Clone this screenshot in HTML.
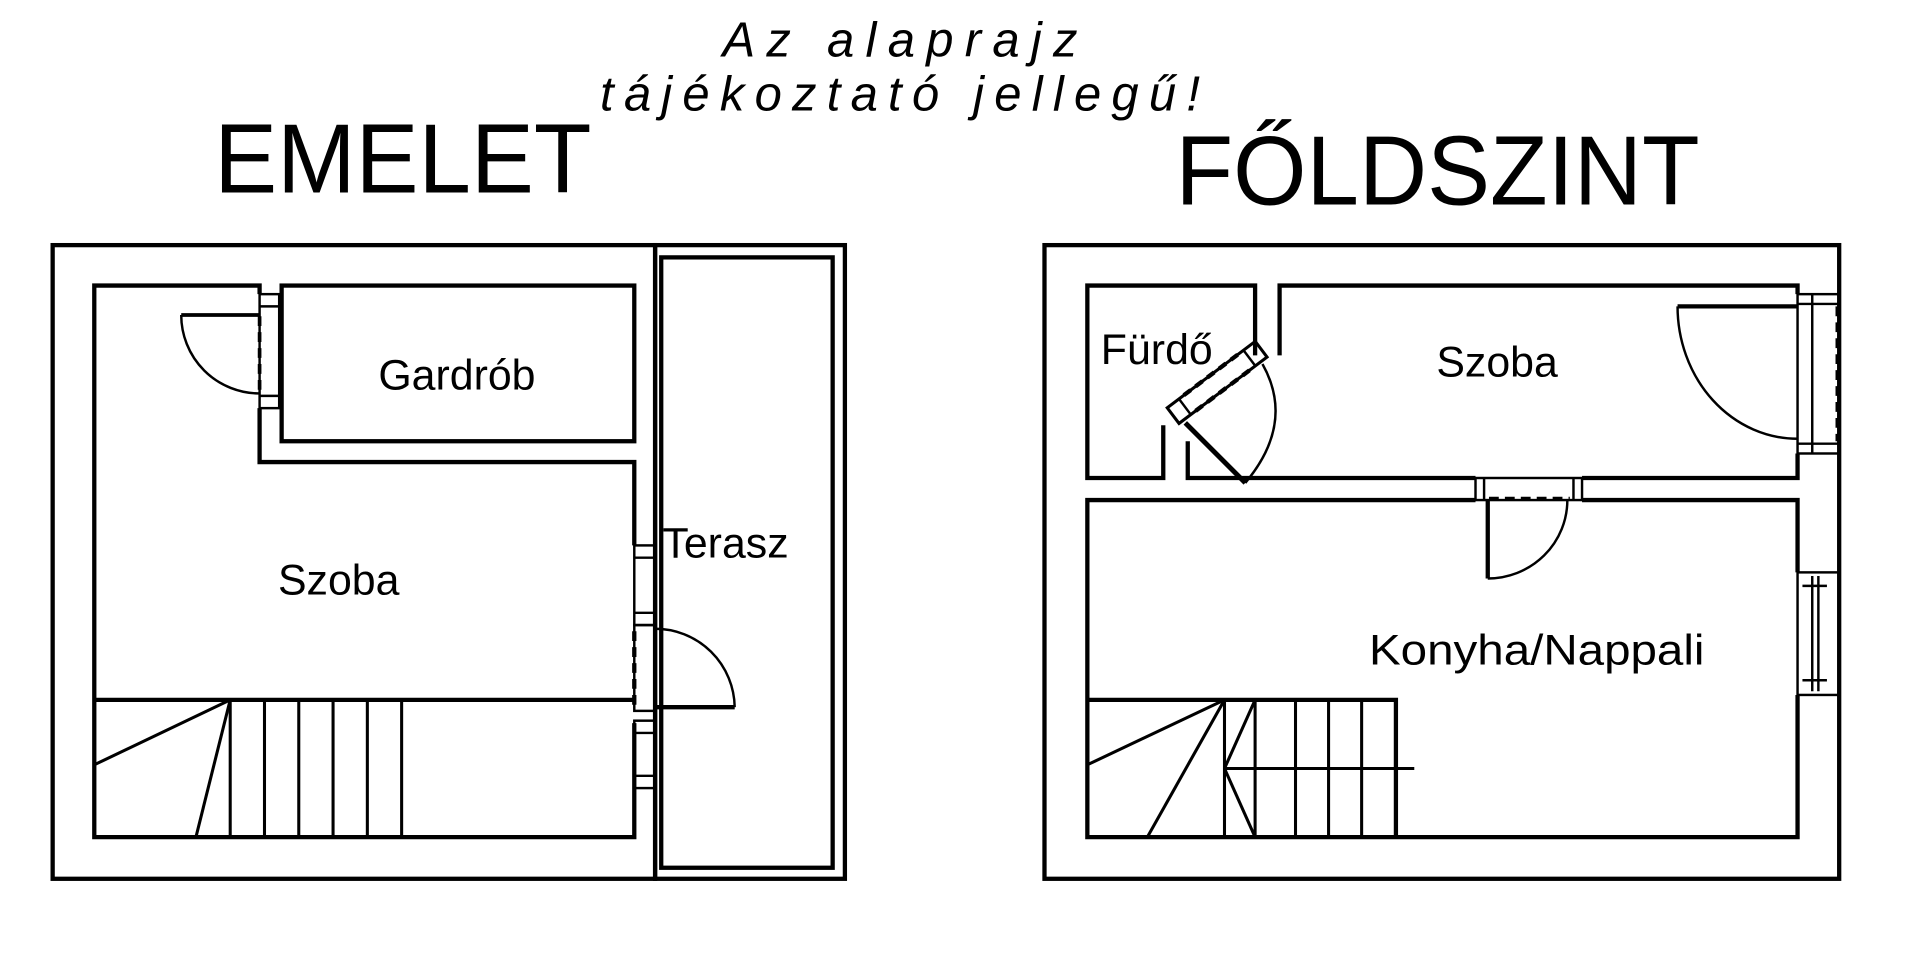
<!DOCTYPE html>
<html><head><meta charset="utf-8"><style>
html,body{margin:0;padding:0;background:#fff;width:1920px;height:956px;overflow:hidden}
svg{display:block}
text{font-family:"Liberation Sans",sans-serif;fill:#000}
</style></head><body>
<svg width="1920" height="956" viewBox="0 0 1568 780" preserveAspectRatio="none" xmlns="http://www.w3.org/2000/svg">
<g fill="none" stroke="#000" stroke-width="3.5">
<!-- LEFT PLAN -->
<rect x="43" y="200" width="492" height="517"/>
<rect x="535" y="200" width="155" height="517"/>
<rect x="540" y="210" width="140" height="498"/>
<polyline points="212,240 212,233 77,233 77,683 518,683 518,590"/>
<polyline points="518,445 518,377 212,377 212,333"/>
<rect x="230" y="233" width="288" height="127"/>
<rect x="212" y="240" width="16" height="93" stroke-width="2"/>
<line x1="212" y1="250" x2="228" y2="250" stroke-width="2"/>
<line x1="212" y1="323" x2="228" y2="323" stroke-width="2"/>
<line x1="212" y1="258" x2="212" y2="318" stroke-dasharray="8,5" stroke-width="3"/>
<line x1="148" y1="257" x2="212" y2="257" stroke-width="3"/>
<path d="M148,257 A64,64 0 0 0 212,321" stroke-width="2"/>
<rect x="518" y="445" width="17" height="65" stroke-width="2"/>
<line x1="518" y1="455" x2="535" y2="455" stroke-width="2"/>
<line x1="518" y1="500" x2="535" y2="500" stroke-width="2"/>
<rect x="518" y="510" width="17" height="70" stroke-width="2"/>
<line x1="518" y1="515" x2="518" y2="575" stroke-dasharray="8,5"/>
<rect x="518" y="588" width="17" height="55" stroke-width="2"/>
<line x1="518" y1="598" x2="535" y2="598" stroke-width="2"/>
<line x1="518" y1="633" x2="535" y2="633" stroke-width="2"/>
<line x1="535" y1="577" x2="600" y2="577"/>
<path d="M535,513 A65,65 0 0 1 600,577" stroke-width="2"/>
<line x1="77" y1="571" x2="518" y2="571"/>
<line x1="188" y1="571" x2="188" y2="683" stroke-width="2.5"/>
<line x1="216" y1="571" x2="216" y2="683" stroke-width="2.5"/>
<line x1="244" y1="571" x2="244" y2="683" stroke-width="2.5"/>
<line x1="272" y1="571" x2="272" y2="683" stroke-width="2.5"/>
<line x1="300" y1="571" x2="300" y2="683" stroke-width="2.5"/>
<line x1="328" y1="571" x2="328" y2="683" stroke-width="2.5"/>
<line x1="188" y1="571" x2="77" y2="624" stroke-width="2.5"/>
<line x1="188" y1="571" x2="160" y2="683" stroke-width="2.5"/>

<!-- RIGHT PLAN -->
<rect x="853" y="200" width="649" height="517"/>
<polyline points="1468,240 1468,233 1045,233 1045,290"/>
<polyline points="1025,290 1025,233 888,233 888,390 950,390 950,347"/>
<polyline points="970,360 970,390 1205,390"/>
<polyline points="1292,390 1468,390 1468,370"/>
<polyline points="1205,408 888,408 888,683 1468,683 1468,567"/>
<polyline points="1468,467 1468,408 1292,408"/>
<g transform="translate(994,312) rotate(-37)">
<rect x="-45" y="-8" width="90" height="16" stroke-width="2.5"/>
<line x1="-33" y1="-8" x2="-33" y2="8" stroke-width="2"/>
<line x1="33" y1="-8" x2="33" y2="8" stroke-width="2"/>
<line x1="-28" y1="-8" x2="28" y2="-8" stroke-dasharray="7,5"/>
<line x1="-28" y1="8" x2="28" y2="8" stroke-dasharray="7,5"/>
</g>
<line x1="968" y1="345" x2="1017" y2="394" stroke-width="4"/>
<path d="M1031,297 Q1058,345 1017,394" stroke-width="2"/>
<rect x="1468" y="240" width="34" height="130" stroke-width="2"/>
<line x1="1480" y1="240" x2="1480" y2="370" stroke-width="2"/>
<line x1="1468" y1="248" x2="1502" y2="248" stroke-width="2"/>
<line x1="1468" y1="362" x2="1502" y2="362" stroke-width="2"/>
<line x1="1500" y1="250" x2="1500" y2="360" stroke-dasharray="8,5" stroke-width="2"/>
<line x1="1370" y1="250" x2="1468" y2="250"/>
<path d="M1370,250 A98,108 0 0 0 1468,358" stroke-width="2"/>
<rect x="1205" y="390" width="87" height="18" stroke-width="2"/>
<line x1="1212" y1="390" x2="1212" y2="408" stroke-width="2"/>
<line x1="1285" y1="390" x2="1285" y2="408" stroke-width="2"/>
<line x1="1216" y1="407" x2="1282" y2="407" stroke-dasharray="8,5"/>
<line x1="1215" y1="408" x2="1215" y2="472"/>
<path d="M1215,472 A65,64 0 0 0 1280,408" stroke-width="2"/>
<rect x="1468" y="467" width="34" height="100" stroke-width="2"/>
<line x1="1480" y1="470" x2="1480" y2="564" stroke-width="2"/>
<line x1="1485" y1="470" x2="1485" y2="564" stroke-width="2"/>
<line x1="1472" y1="478" x2="1492" y2="478" stroke-width="2"/>
<line x1="1472" y1="555" x2="1492" y2="555" stroke-width="2"/>
<polyline points="888,571 1140,571 1140,683"/>
<line x1="1000" y1="571" x2="1000" y2="683" stroke-width="2.5"/>
<line x1="1025" y1="571" x2="1025" y2="683" stroke-width="2.5"/>
<line x1="1058" y1="571" x2="1058" y2="683" stroke-width="2.5"/>
<line x1="1085" y1="571" x2="1085" y2="683" stroke-width="2.5"/>
<line x1="1112" y1="571" x2="1112" y2="683" stroke-width="2.5"/>
<line x1="1000" y1="571" x2="888" y2="624" stroke-width="2.5"/>
<line x1="1000" y1="571" x2="937" y2="683" stroke-width="2.5"/>
<line x1="1000" y1="627" x2="1155" y2="627" stroke-width="2.5"/>
<line x1="1000" y1="627" x2="1025" y2="571" stroke-width="2.5"/>
<line x1="1000" y1="627" x2="1025" y2="683" stroke-width="2.5"/>
</g>
<text x="175" y="157" font-size="80" textLength="308" lengthAdjust="spacingAndGlyphs">EMELET</text>
<text x="960" y="167" font-size="80" textLength="428" lengthAdjust="spacingAndGlyphs">FŐLDSZINT</text>
<text x="590" y="46" font-size="40" font-style="italic" textLength="290" lengthAdjust="spacing">Az  alaprajz</text>
<text x="490" y="90" font-size="40" font-style="italic" textLength="490" lengthAdjust="spacing">tájékoztató  jellegű!</text>
<text x="309" y="318" font-size="35">Gardrób</text>
<text x="227" y="485" font-size="35">Szoba</text>
<text x="541" y="455" font-size="35">Terasz</text>
<text x="899" y="297" font-size="35">Fürdő</text>
<text x="1173" y="307" font-size="35">Szoba</text>
<text x="1118" y="542" font-size="35" textLength="274" lengthAdjust="spacingAndGlyphs">Konyha/Nappali</text>
</svg>
</body></html>
